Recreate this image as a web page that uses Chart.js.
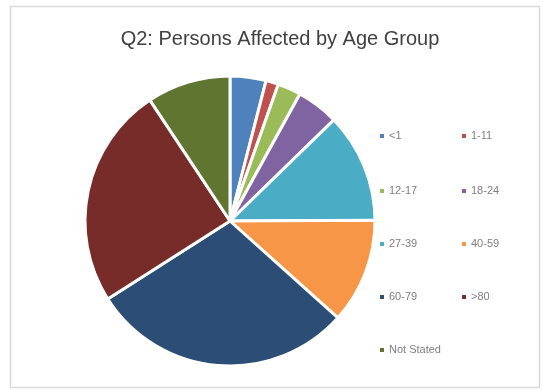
<!DOCTYPE html>
<html>
<head>
<meta charset="utf-8">
<script src="https://cdn.jsdelivr.net/npm/chart.js@4/dist/chart.umd.min.js"></script>
<style>
  html, body { margin: 0; padding: 0; background: #ffffff; }
  #wrap { position: relative; width: 543px; height: 390px; }
</style>
</head>
<body>
<div id="wrap"><canvas id="c" width="543" height="390"></canvas></div>
<script>
const titleText = "Q2: Persons Affected by Age Group";
const categories = ["<1", "1-11", "12-17", "18-24", "27-39", "40-59", "60-79", ">80", "Not Stated"];
const values = [4.0, 1.4, 2.6, 4.7, 12.2, 11.7, 29.3, 24.7, 9.3];
const colors = ["#4F81BD", "#C0504D", "#9BBB59", "#8064A2", "#4BACC6", "#F79646", "#2C4D75", "#772C2A", "#5F7530"];

const framePlugin = {
  id: 'frame',
  beforeDraw(chart) {
    const ctx = chart.ctx;
    ctx.save();
    ctx.fillStyle = '#ffffff';
    ctx.fillRect(0, 0, chart.width, chart.height);
    ctx.strokeStyle = '#d9d9d9';
    ctx.lineWidth = 1.5;
    ctx.strokeRect(10.5, 6.5, 529, 381);
    ctx.restore();
  }
};

const titleLegendPlugin = {
  id: 'titleLegend',
  afterDraw(chart) {
    const ctx = chart.ctx;
    ctx.save();
    // title
    ctx.fillStyle = '#404040';
    ctx.font = '20px "Liberation Sans", Arial, sans-serif';
    ctx.textAlign = 'center';
    ctx.textBaseline = 'alphabetic';
    ctx.fillText(titleText, 280, 45);
    // legend (row-first, two columns)
    const colX = [389, 471];
    const rowY = [136, 191, 244, 297, 350];
    ctx.font = '11px "Liberation Sans", Arial, sans-serif';
    ctx.textAlign = 'left';
    ctx.textBaseline = 'middle';
    chart.data.labels.forEach((lab, i) => {
      const col = i % 2, row = Math.floor(i / 2);
      const x = colX[col], y = rowY[row];
      ctx.fillStyle = chart.data.datasets[0].backgroundColor[i];
      ctx.fillRect(x - 9, y - 2, 4, 4);
      ctx.fillStyle = '#7f7f7f';
      ctx.fillText(lab, x, y);
    });
    ctx.restore();
  }
};

new Chart(document.getElementById('c'), {
  type: 'pie',
  data: {
    labels: categories,
    datasets: [{
      data: values,
      backgroundColor: colors,
      borderColor: '#ffffff',
      borderWidth: 3,
      radius: 145
    }]
  },
  options: {
    responsive: false,
    animation: false,
    layout: { padding: { left: 80, right: 163, top: 71, bottom: 19 } },
    plugins: {
      legend: { display: false },
      title: { display: false },
      tooltip: { enabled: false }
    }
  },
  plugins: [framePlugin, titleLegendPlugin]
});
</script>
</body>
</html>
